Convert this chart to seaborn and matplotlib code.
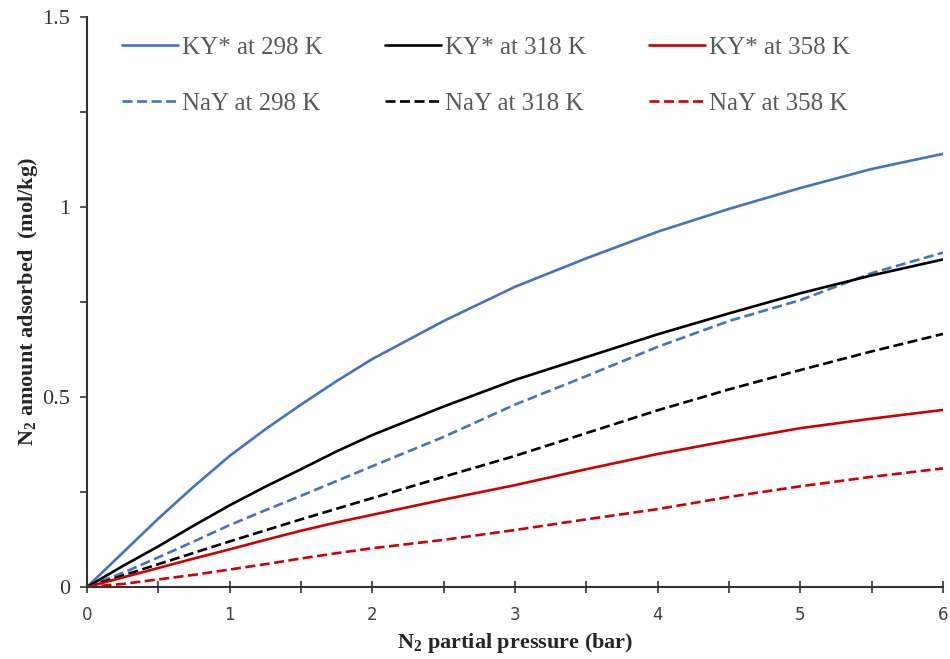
import matplotlib
matplotlib.use("Agg")
import matplotlib.pyplot as plt
import seaborn as sns
import pandas as pd
from matplotlib.ticker import MultipleLocator

# N2 partial pressure (bar)
pressure = [0, 0.25, 0.5, 0.75, 1, 1.25, 1.5, 1.75, 2, 2.5, 3, 3.5, 4, 4.5, 5, 5.5, 6]

# N2 amount adsorbed (mol/kg)
ky_298 = [0, 0.09, 0.18, 0.265, 0.345, 0.415, 0.48, 0.542, 0.60, 0.70, 0.79, 0.865, 0.935, 0.995, 1.05, 1.10, 1.14]
ky_318 = [0, 0.055, 0.107, 0.162, 0.215, 0.264, 0.31, 0.357, 0.40, 0.475, 0.545, 0.605, 0.665, 0.72, 0.773, 0.82, 0.862]
ky_358 = [0, 0.025, 0.05, 0.075, 0.099, 0.124, 0.148, 0.17, 0.19, 0.23, 0.268, 0.31, 0.35, 0.385, 0.418, 0.443, 0.466]
nay_298 = [0, 0.037, 0.078, 0.12, 0.163, 0.202, 0.24, 0.279, 0.318, 0.395, 0.48, 0.555, 0.632, 0.70, 0.755, 0.826, 0.88]
nay_318 = [0, 0.03, 0.06, 0.09, 0.12, 0.149, 0.178, 0.206, 0.234, 0.29, 0.345, 0.405, 0.465, 0.52, 0.571, 0.62, 0.666]
nay_358 = [0, 0.008, 0.02, 0.032, 0.046, 0.06, 0.075, 0.089, 0.102, 0.124, 0.15, 0.178, 0.205, 0.237, 0.265, 0.29, 0.312]

# legend reads row by row (KY* on top, NaY below), so list column by column
series_labels = ["KY* at 298 K", "NaY at 298 K", "KY* at 318 K",
                 "NaY at 318 K", "KY* at 358 K", "NaY at 358 K"]
series_values = [ky_298, nay_298, ky_318, nay_318, ky_358, nay_358]

blue, black, red = "#4472C4", "#000000", "#D00000"
dash = (0, (3.8, 1.7))
styles = {
    "KY* at 298 K": (blue, "-"),
    "KY* at 318 K": (black, "-"),
    "KY* at 358 K": (red, "-"),
    "NaY at 298 K": (blue, dash),
    "NaY at 318 K": (black, dash),
    "NaY at 358 K": (red, dash),
}

sns.set_style("ticks")
plt.rcParams["font.family"] = ["Liberation Serif", "DejaVu Serif"]
plt.rcParams["mathtext.default"] = "regular"

fig = plt.figure(figsize=(9.5, 6.59), dpi=100)
ax = fig.add_axes([87 / 950, 1 - 587 / 659, (943 - 87) / 950, (587 - 17) / 659])

for label, values in zip(series_labels, series_values):
    df = pd.DataFrame({"p": pressure, "q": values})
    color, ls = styles[label]
    sns.lineplot(data=df, x="p", y="q", ax=ax, color=color, linestyle=ls,
                 linewidth=1.9, label=label)

ax.set_xlim(0, 6)
ax.set_ylim(0, 1.5)

# y axis: labelled majors every 0.5, minors every 0.25
ax.set_yticks([0, 0.5, 1, 1.5])
ax.set_yticklabels(["0", "0.5", "1", "1.5"], fontsize=16, color="#333333")
ax.yaxis.set_minor_locator(MultipleLocator(0.25))
ax.tick_params(axis="y", which="both", direction="out", length=5, width=1.2,
               color="#333333", pad=7)

# x axis: ticks every 0.5, labels on whole bars
ax.set_xticks([0, 1, 2, 3, 4, 5, 6])
ax.set_xticklabels(["0", "1", "2", "3", "4", "5", "6"], fontsize=12,
                   family="DejaVu Sans", color="#404040")
ax.xaxis.set_minor_locator(MultipleLocator(0.5))
ax.tick_params(axis="x", which="both", direction="inout", length=9, width=1.2,
               color="#333333", pad=9)

for side in ["top", "right"]:
    ax.spines[side].set_visible(False)
for side in ["left", "bottom"]:
    ax.spines[side].set_linewidth(1.5)
    ax.spines[side].set_color("#333333")

ax.set_xlabel("N$_2$ partial pressure (bar)", fontsize=16, fontweight="bold")
ax.set_ylabel("N$_2$ amount adsorbed  (mol/kg)", fontsize=16, fontweight="bold")
ax.xaxis.set_label_coords(0.5, -0.098)
ax.xaxis.label.set_va("center")
ax.yaxis.set_label_coords(-0.069, 0.5)
ax.yaxis.label.set_va("center")

leg = ax.legend(ncol=3, loc="upper left", bbox_to_anchor=(0.029, 0.984), frameon=False,
                fontsize=18, handlelength=2.24, handletextpad=0.16, columnspacing=2.5,
                labelspacing=1.36, borderaxespad=0)
for text in leg.get_texts():
    text.set_color("#595959")

fig.savefig("out.png", dpi=100)
